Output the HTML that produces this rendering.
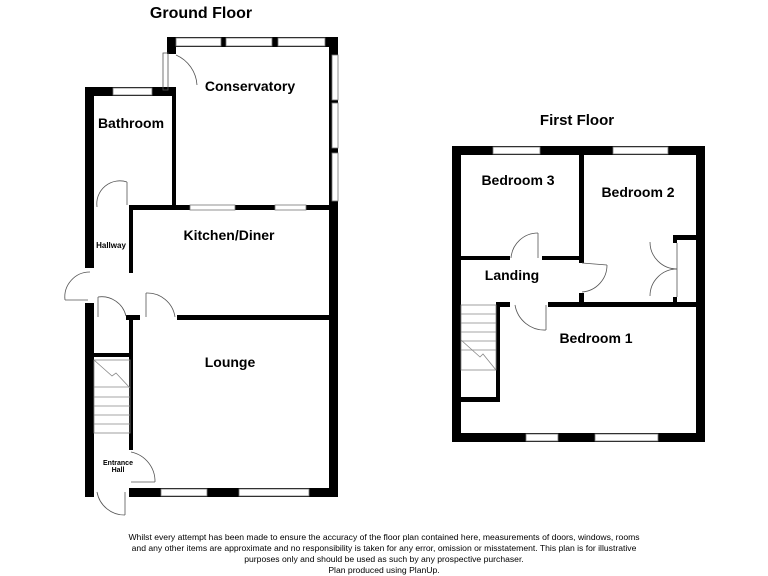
<!DOCTYPE html>
<html><head><style>
html,body{margin:0;padding:0;background:#fff;}
svg{display:block;font-family:"Liberation Sans",Arial,sans-serif;}
.t{font-weight:bold;fill:#000;text-anchor:middle;}
</style></head><body>
<svg width="768" height="576" viewBox="0 0 768 576" xmlns="http://www.w3.org/2000/svg">
<g fill="#000">
<rect x="167" y="37" width="171" height="10"/>
<rect x="167" y="37" width="9" height="17"/>
<rect x="329" y="37" width="9" height="460"/>
<rect x="172" y="90" width="4" height="120"/>
<rect x="85" y="87" width="91" height="9"/>
<rect x="85" y="87" width="9" height="181"/>
<rect x="129" y="205" width="209" height="5"/>
<rect x="129" y="205" width="4" height="68"/>
<rect x="177" y="315" width="161" height="5"/>
<rect x="126" y="315" width="14" height="5"/>
<rect x="129" y="315" width="4" height="135"/>
<rect x="85" y="303" width="9" height="194"/>
<rect x="94" y="353" width="35" height="4"/>
<rect x="129" y="488" width="209" height="9"/>
<rect x="452" y="146" width="253" height="9"/>
<rect x="452" y="146" width="9" height="296"/>
<rect x="696" y="146" width="9" height="296"/>
<rect x="452" y="433" width="253" height="9"/>
<rect x="579" y="155" width="5" height="108"/>
<rect x="579" y="293" width="5" height="12"/>
<rect x="461" y="256" width="49" height="4"/>
<rect x="542" y="256" width="40" height="4"/>
<rect x="548" y="302" width="148" height="5"/>
<rect x="496" y="302" width="14" height="5"/>
<rect x="496" y="302" width="4" height="100"/>
<rect x="461" y="397" width="39" height="5"/>
<rect x="673" y="235" width="23" height="5"/>
<rect x="673" y="235" width="4" height="8"/>
<rect x="673" y="297" width="4" height="8"/>
</g>
<g fill="#fff" stroke="#777" stroke-width="0.8">
<rect x="176" y="38" width="45" height="8"/><rect x="226" y="38" width="46" height="8"/><rect x="278" y="38" width="47" height="8"/>
<rect x="332" y="55" width="6" height="45"/><rect x="332" y="103" width="6" height="45"/><rect x="332" y="153" width="6" height="48"/>
<rect x="113" y="88" width="39" height="7"/>
<rect x="190" y="205" width="45" height="5"/><rect x="275" y="205" width="31" height="5"/>
<rect x="161" y="489" width="46" height="7"/><rect x="239" y="489" width="70" height="7"/>
<rect x="493" y="147" width="47" height="7"/><rect x="613" y="147" width="55" height="7"/>
<rect x="526" y="434" width="32" height="7"/><rect x="595" y="434" width="63" height="7"/>
</g>
<g fill="none" stroke="#555" stroke-width="0.8">
<rect x="163" y="53" width="5" height="37"/>
<path d="M176 55 A35 35 0 0 1 197 85"/>
<line x1="127" y1="182" x2="127" y2="205"/><path d="M127 182 A23 23 0 0 0 97 207"/>
<line x1="65" y1="300" x2="88" y2="300"/><path d="M65 300 A25 25 0 0 1 90 272"/>
<line x1="98" y1="297" x2="98" y2="317"/><path d="M98 297 A25 25 0 0 1 126 316"/>
<line x1="146" y1="293" x2="146" y2="317"/><path d="M146 293 A28 28 0 0 1 175 317"/>
<path d="M131 452 A30 30 0 0 1 155 482"/><line x1="131" y1="482" x2="155" y2="482"/>
<line x1="125" y1="492" x2="125" y2="515"/><path d="M125 515 A28 28 0 0 1 97 492"/>
<line x1="538" y1="233" x2="538" y2="258"/><path d="M538 233 A27 27 0 0 0 511 258"/>
<line x1="582" y1="263" x2="607" y2="265"/><path d="M607 265 A27 27 0 0 1 582 292"/>
<line x1="546" y1="305" x2="546" y2="330"/><path d="M546 330 A30 30 0 0 1 515 305"/>
<path d="M650 242 A27 27 0 0 0 677 269"/><path d="M650 296 A27 27 0 0 1 677 269"/>
<line x1="677" y1="243" x2="677" y2="297"/>
</g>
<g stroke="#888" stroke-width="0.8" fill="none">
<rect x="94" y="360" width="36" height="73"/>
<line x1="94" y1="387" x2="130" y2="387"/><line x1="94" y1="397" x2="130" y2="397"/><line x1="94" y1="406" x2="130" y2="406"/><line x1="94" y1="415" x2="130" y2="415"/><line x1="94" y1="424" x2="130" y2="424"/>
<path d="M94 360 L112 376 L116 373 L130 388"/>
<rect x="461" y="305" width="35" height="65"/>
<line x1="461" y1="314" x2="496" y2="314"/><line x1="461" y1="323" x2="496" y2="323"/><line x1="461" y1="332" x2="496" y2="332"/><line x1="461" y1="341" x2="496" y2="341"/><line x1="461" y1="350" x2="496" y2="350"/>
<path d="M461 340 L480 357 L483 354 L496 370"/>
</g>
<text class="t" x="201" y="18" font-size="16">Ground Floor</text>
<text class="t" x="577" y="125" font-size="15">First Floor</text>
<text class="t" x="250" y="91" font-size="14">Conservatory</text>
<text class="t" x="131" y="128" font-size="14">Bathroom</text>
<text class="t" x="229" y="240" font-size="14">Kitchen/Diner</text>
<text class="t" x="111" y="248" font-size="8">Hallway</text>
<text class="t" x="230" y="367" font-size="14">Lounge</text>
<text class="t" x="118" y="465" font-size="7">Entrance</text>
<text class="t" x="118" y="472" font-size="7">Hall</text>
<text class="t" x="518" y="185" font-size="14">Bedroom 3</text>
<text class="t" x="638" y="197" font-size="14">Bedroom 2</text>
<text class="t" x="512" y="280" font-size="14">Landing</text>
<text class="t" x="596" y="343" font-size="14">Bedroom 1</text>
<g font-size="8.6" text-anchor="middle" fill="#000">
<text x="384" y="540">Whilst every attempt has been made to ensure the accuracy of the floor plan contained here, measurements of doors, windows, rooms</text>
<text x="384" y="551">and any other items are approximate and no responsibility is taken for any error, omission or misstatement. This plan is for illustrative</text>
<text x="384" y="562">purposes only and should be used as such by any prospective purchaser.</text>
<text x="384" y="573">Plan produced using PlanUp.</text>
</g>
</svg>
</body></html>
